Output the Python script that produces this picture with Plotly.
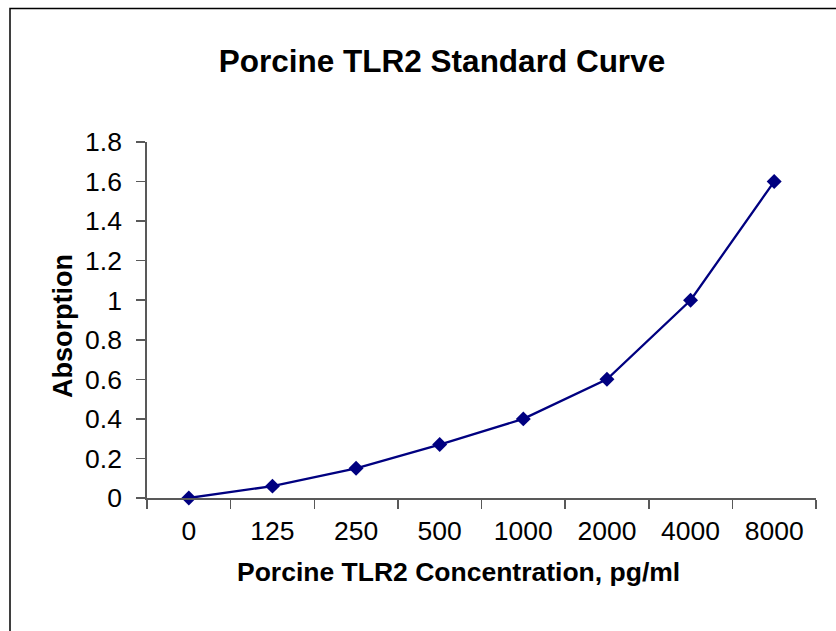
import plotly.graph_objects as go

categories = ["0", "125", "250", "500", "1000", "2000", "4000", "8000"]
absorption = [0.0, 0.06, 0.15, 0.27, 0.40, 0.60, 1.00, 1.60]
y_ticks = [0, 0.2, 0.4, 0.6, 0.8, 1, 1.2, 1.4, 1.6, 1.8]
y_tick_text = ["0", "0.2", "0.4", "0.6", "0.8", "1", "1.2", "1.4", "1.6", "1.8"]

title_text = "Porcine TLR2 Standard Curve"
x_title = "Porcine TLR2 Concentration, pg/ml"
y_title = "Absorption"

W, H = 836, 631
L, R, T, B = 147, 20, 142, 133
FONT = "Arial, 'Liberation Sans', sans-serif"
NAVY = "#000080"
AXIS = "#595959"

fig = go.Figure(go.Scatter(
    x=categories, y=absorption, mode="lines+markers",
    line=dict(color=NAVY, width=2.3),
    marker=dict(symbol="diamond", size=11.5, color=NAVY),
    showlegend=False, cliponaxis=False,
))

pw = W - L - R
ph = H - T - B

fig.update_layout(
    width=W, height=H,
    margin=dict(l=L, r=R, t=T, b=B, pad=0),
    paper_bgcolor="white", plot_bgcolor="white",
    font=dict(family=FONT, color="black"),
    title=dict(text=f"<b>{title_text}</b>", font=dict(size=31.5, family=FONT, color="black"),
               xref="container", x=442 / W, xanchor="center",
               yref="container", y=1 - 61 / H, yanchor="middle"),
    xaxis=dict(type="category", range=[-0.5, len(categories) - 0.5],
               tickson="boundaries", ticks="outside", ticklen=9, tickwidth=1.5, tickcolor=AXIS,
               showline=True, linecolor=AXIS, linewidth=1.8, showgrid=False, zeroline=False,
               tickfont=dict(size=26.5, family=FONT, color="black"), ticklabelstandoff=8,
               fixedrange=True),
    yaxis=dict(range=[0, 1.8], tickvals=y_ticks, ticktext=y_tick_text,
               ticks="outside", ticklen=9, tickwidth=1.5, tickcolor=AXIS,
               showline=True, linecolor=AXIS, linewidth=1.8, showgrid=False, zeroline=False,
               tickfont=dict(size=26.5, family=FONT, color="black"), ticklabelstandoff=9,
               fixedrange=True),
    annotations=[
        dict(text=f"<b>{x_title}</b>", xref="paper", yref="paper",
             x=(458 - L) / pw, y=-(572 - (H - B)) / ph, xanchor="center", yanchor="middle",
             showarrow=False, font=dict(size=26.5, family=FONT, color="black")),
        dict(text=f"<b>{y_title}</b>", xref="paper", yref="paper", textangle=-90,
             x=(63 - L) / pw, y=((H - B) - 326) / ph, xanchor="center", yanchor="middle",
             showarrow=False, font=dict(size=27, family=FONT, color="black")),
    ],
    shapes=[dict(type="rect", xref="paper", yref="paper",
                 x0=(10 - L) / pw, x1=1.2, y0=-0.6, y1=((H - B) - 8.5) / ph,
                 line=dict(color="black", width=1.5), fillcolor="rgba(0,0,0,0)", layer="below")],
)

fig.write_html("out.html", config={"displayModeBar": False, "staticPlot": True},
               post_script="document.body.style.margin='0px';document.body.style.overflow='hidden';")
